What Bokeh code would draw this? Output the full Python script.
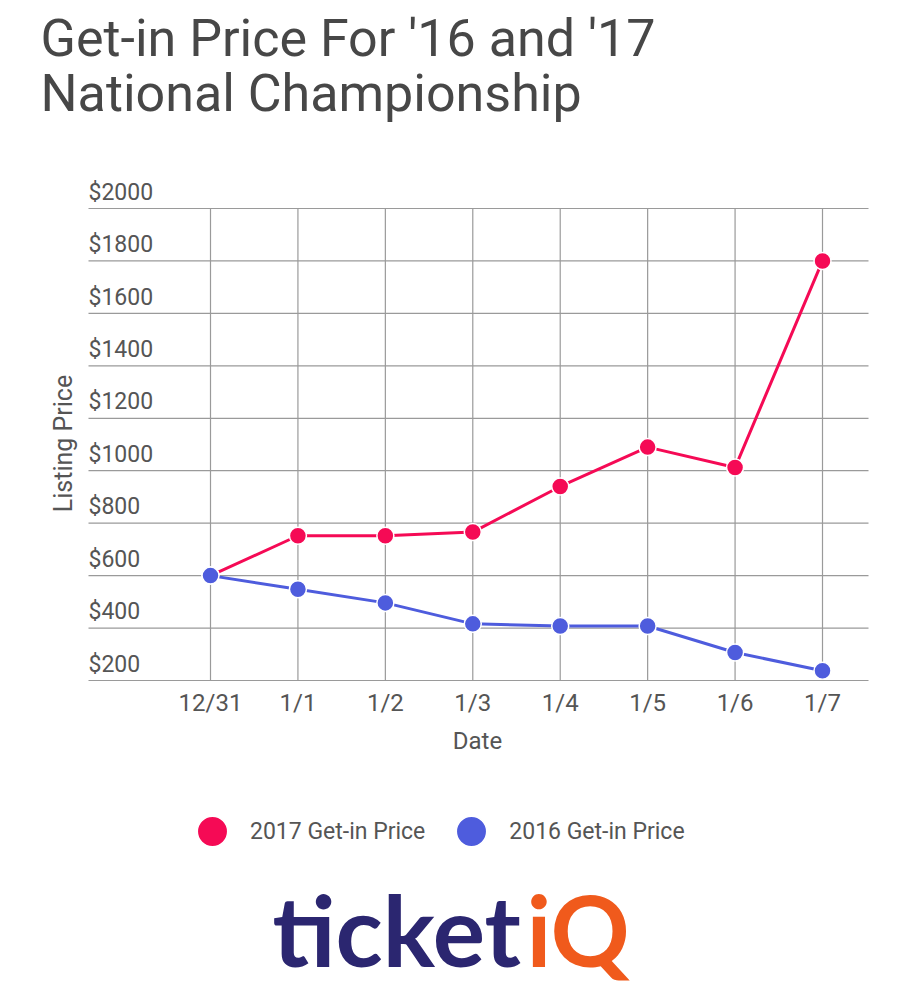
import math
from bokeh.plotting import figure
from bokeh.models import (ColumnDataSource, Range1d, Label, Legend, LegendItem)
from bokeh.core.properties import value
from bokeh.embed import file_html
from bokeh.resources import INLINE

# ---------------- data ----------------
dates = ["12/31", "1/1", "1/2", "1/3", "1/4", "1/5", "1/6", "1/7"]
price_2017 = [600, 752, 752, 766, 940, 1090, 1012, 1800]
price_2016 = [600, 548, 496, 416, 408, 408, 307, 237]
y_ticks = [200, 400, 600, 800, 1000, 1200, 1400, 1600, 1800, 2000]
y_tick_labels = ["$200", "$400", "$600", "$800", "$1000", "$1200",
                 "$1400", "$1600", "$1800", "$2000"]

# ---------------- styling ----------------
RED = "#F50A55"
BLUE = "#4E5CDD"
GRID = "#9a9a9a"
TXT = "#555555"
FONT = "Roboto"
BASE_SHIFT = 0.36  # empirical alphabetic-baseline correction (fraction of font size)

W, H = 910, 988
X0_PX, X7_PX = 210, 822
LEFT_PX, RIGHT_PX = 88, 868
Y200_PX, Y2000_PX = 680, 208

kx = (X7_PX - X0_PX) / 7.0
ky = (Y200_PX - Y2000_PX) / 1800.0
x_start = -X0_PX / kx
x_end = (W - X0_PX) / kx
y_start = 200 - (H - Y200_PX) / ky
y_end = 200 + Y200_PX / ky
grid_left = (LEFT_PX - X0_PX) / kx
grid_right = (RIGHT_PX - X0_PX) / kx

p = figure(width=W, height=H, output_backend="svg", toolbar_location=None,
           x_range=Range1d(x_start, x_end), y_range=Range1d(y_start, y_end),
           x_axis_location=None, y_axis_location=None, min_border=0)
p.outline_line_color = None
p.background_fill_color = "white"
p.grid.visible = False

idx = list(range(len(dates)))

# gridlines
hsrc = ColumnDataSource(dict(y=y_ticks, lab=y_tick_labels))
p.segment(x0=grid_left, x1=grid_right, y0="y", y1="y", source=hsrc,
          line_color=GRID, line_width=1.2)
vsrc = ColumnDataSource(dict(x=idx, lab=dates))
p.segment(x0="x", x1="x", y0=min(y_ticks), y1=max(y_ticks), source=vsrc,
          line_color=GRID, line_width=1.2)

# y tick labels (above their gridline, left aligned)
YFS = 23
p.text(x=grid_left, y="y", text="lab", source=hsrc, text_font=value(FONT),
       text_font_size=f"{YFS}px", text_color=TXT, text_align="left",
       text_baseline="alphabetic", y_offset=-8 - BASE_SHIFT * YFS)
# x tick labels
XFS = 24
p.text(x="x", y=min(y_ticks), text="lab", source=vsrc, text_font=value(FONT),
       text_font_size=f"{XFS}px", text_color=TXT, text_align="center",
       text_baseline="alphabetic", y_offset=31 - BASE_SHIFT * XFS)

# series
src = ColumnDataSource(dict(x=idx, p17=price_2017, p16=price_2016))
p.line("x", "p17", source=src, line_color=RED, line_width=3)
r17 = p.scatter("x", "p17", source=src, size=17, fill_color=RED,
                line_color="white", line_width=1.5)
p.line("x", "p16", source=src, line_color=BLUE, line_width=3)
r16 = p.scatter("x", "p16", source=src, size=17, fill_color=BLUE,
                line_color="white", line_width=1.5)

# text helper (y given as baseline, px from top)
def lab(text, x, y_base_px, fs, color=TXT, align="left", angle=0.0,
        baseline="alphabetic", style="normal", font=FONT):
    y = y_base_px - (BASE_SHIFT * fs if baseline == "alphabetic" else 0)
    p.add_layout(Label(x=x, y=H - y, x_units="screen", y_units="screen",
                       text=text, text_font=font, text_font_size=f"{fs}px",
                       text_color=color, text_align=align, angle=angle,
                       text_baseline=baseline, text_font_style=style))

lab("Get-in Price For '16 and '17", 40, 57, 52, color="#474747")
lab("National Championship", 40, 112, 52, color="#474747")
lab("Date", 477, 749, 24, align="center")
lab("Listing Price", 63, 443, 25, angle=math.pi / 2, align="center",
    baseline="middle")

# legend
legend = Legend(items=[LegendItem(label="2017 Get-in Price", renderers=[r17]),
                       LegendItem(label="2016 Get-in Price", renderers=[r16])],
                orientation="horizontal", location=(174, 988 - 831 - 38),
                glyph_width=76, glyph_height=76, label_standoff=0, spacing=8,
                padding=0, margin=0, border_line_color=None,
                background_fill_alpha=0, label_text_font=FONT,
                label_text_font_size="23px", label_text_color=TXT)
p.add_layout(legend)

# logo
lab("ticket", 272, 964, 98, color="#2B2670", style="bold", font="Lato")
lab("iQ", 526, 964, 98, color="#F05A1C", style="bold", font="Lato")

open("out.html", "w").write(file_html(p, INLINE))
